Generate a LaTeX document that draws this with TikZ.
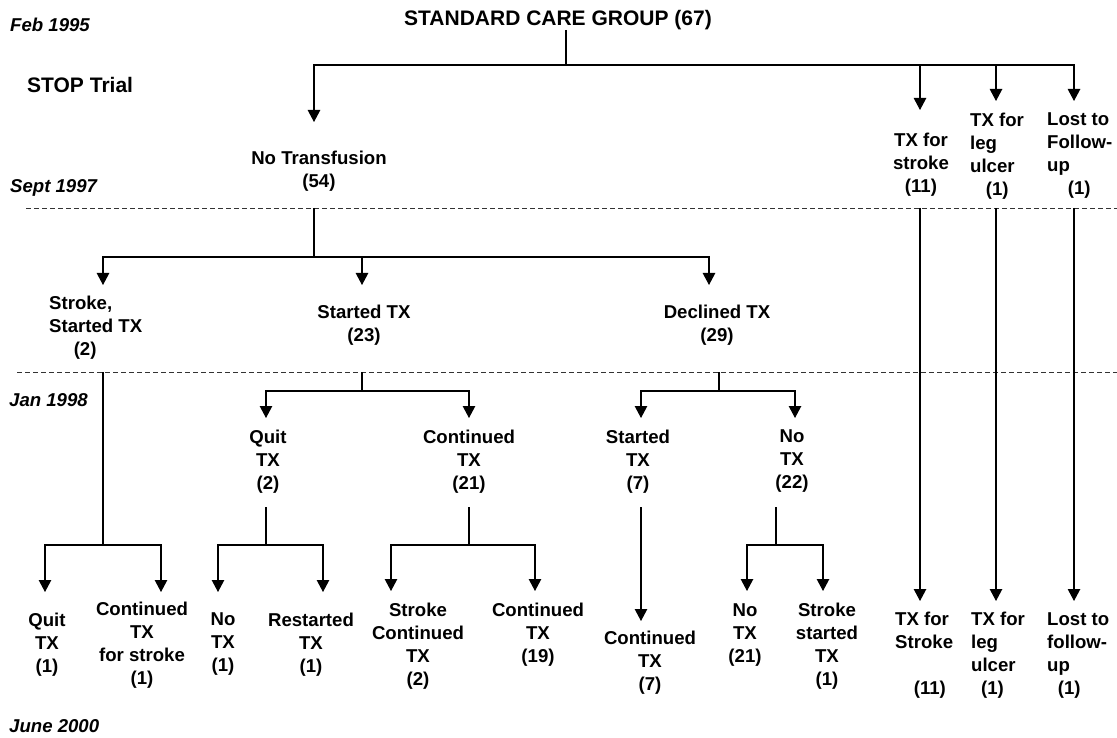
\documentclass[tikz,border=0pt]{standalone}
\usepackage{fontspec}
\setmainfont{Liberation Sans}
\usetikzlibrary{arrows.meta}
\begin{document}
\begin{tikzpicture}[x=1pt,y=-1pt,
  lbl/.style={inner sep=0pt, align=center, font=\fontsize{18.6}{23}\selectfont\bfseries},
  lbll/.style={inner sep=0pt, align=left, anchor=west, font=\fontsize{18.6}{23}\selectfont\bfseries},
  datelbl/.style={inner sep=0pt, anchor=west, font=\fontsize{18.6}{23}\selectfont\bfseries\itshape},
  big/.style={inner sep=0pt, font=\fontsize{21}{25}\selectfont\bfseries},
  ln/.style={line width=1.1pt, black},
  arr/.style={ln, -{Triangle[width=12.5pt,length=12pt]}},
  dsh/.style={line width=0.9pt, black!80, dash pattern=on 5pt off 3pt}]
\useasboundingbox (0,0) rectangle (1117,738);

% ---- labels ----
\node[big] (title) at (558,20) {STANDARD CARE GROUP (67)};
\node[datelbl] (feb) at (10,25) {Feb 1995};
\node[big, anchor=west] (stop) at (27,85) {STOP Trial};
\node[datelbl] (sept) at (10,188) {Sept 1997};
\node[datelbl] (jan) at (9,400) {Jan 1998};
\node[datelbl] (june) at (9,726) {June 2000};

% level 1
\node[lbl] (notx) at (319,171.5) {No Transfusion\\(54)};
\node[lbl] (txs1) at (921,164.5) {TX for\\stroke\\(11)};
\node[lbll] (leg1) at (970,156) {TX for\\leg\\ulcer\\\hspace*{15.6pt}(1)};
\node[lbll] (lost1) at (1047,156) {Lost to\\Follow-\\up\\\hspace*{20.6pt}(1)};

% level 2
\node[lbll] (stroke2) at (49,327.5) {Stroke,\\Started TX\\\hspace*{24.6pt}(2)};
\node[lbl] (start2) at (364,325) {Started TX\\(23)};
\node[lbl] (decl2) at (717,325) {Declined TX\\(29)};

% level 3
\node[lbl] (quit3) at (268,461.5) {Quit\\TX\\(2)};
\node[lbl] (cont3) at (469,461.5) {Continued\\TX\\(21)};
\node[lbl] (start3) at (638,461.5) {Started\\TX\\(7)};
\node[lbl] (no3) at (792,461.5) {No\\TX\\(22)};

% level 4
\node[lbl] (quit4) at (47,644.5) {Quit\\TX\\(1)};
\node[lbl] (contst4) at (142,645.5) {Continued\\TX\\for stroke\\(1)};
\node[lbl] (no4) at (223,644.5) {No\\TX\\(1)};
\node[lbl] (restart4) at (311,644.5) {Restarted\\TX\\(1)};
\node[lbl] (strcont4) at (418,646.5) {Stroke\\Continued\\TX\\(2)};
\node[lbl] (cont19) at (538,634.5) {Continued\\TX\\(19)};
\node[lbl] (cont7) at (650,663) {Continued\\TX\\(7)};
\node[lbl] (no21) at (745,635) {No\\TX\\(21)};
\node[lbl] (strstart4) at (827,646.5) {Stroke\\started\\TX\\(1)};
\node[lbll] (txS4) at (895,655.5) {TX for\\Stroke\\[23pt]\hspace*{18.6pt}(11)};
\node[lbll] (leg4) at (971,655.5) {TX for\\leg\\ulcer\\\hspace*{10pt}(1)};
\node[lbll] (lost4) at (1047,655.5) {Lost to\\follow-\\up\\\hspace*{10.7pt}(1)};

% ---- dashed time lines ----
\coordinate (d1l) at (26,208);  \coordinate (d1r) at (1117,208);
\coordinate (d2l) at (17,372);  \coordinate (d2r) at (1117,372);
\draw[dsh] (d1l) -- (d1r);
\draw[dsh] (d2l) -- (d2r);

% ---- top branch ----
\coordinate (b0) at (566,65);
\coordinate (tA) at (314,122);
\coordinate (tB) at (920,110);
\coordinate (tC) at (996,101);
\coordinate (tD) at (1074,101);
\draw[ln] (title.south -| b0) -- (b0);
\draw[arr] (b0) -| (tA);
\draw[arr] (b0) -| (tB);
\draw[arr] (b0) -| (tC);
\draw[arr] (b0) -| (tD);

% ---- No Transfusion branch ----
\coordinate (n1) at (314,208);
\coordinate (b1) at (314,257);
\coordinate (t2a) at (103,285);
\coordinate (t2b) at (362,285);
\coordinate (t2c) at (709,285);
\draw[ln] (n1) -- (b1);
\draw[arr] (b1) -| (t2a);
\draw[arr] (b1) -| (t2b);
\draw[arr] (b1) -| (t2c);

% ---- Started TX branch ----
\coordinate (s1) at (362,372);
\coordinate (b2) at (362,391);
\coordinate (t3a) at (266,418);
\coordinate (t3b) at (469,418);
\draw[ln] (s1) -- (b2);
\draw[arr] (b2) -| (t3a);
\draw[arr] (b2) -| (t3b);

% ---- Declined TX branch ----
\coordinate (s2) at (719,372);
\coordinate (b3) at (719,391);
\coordinate (t3c) at (641,418);
\coordinate (t3d) at (795,418);
\draw[ln] (s2) -- (b3);
\draw[arr] (b3) -| (t3c);
\draw[arr] (b3) -| (t3d);

% ---- Stroke, started TX branch ----
\coordinate (s3) at (103,372);
\coordinate (b4) at (103,545);
\coordinate (t4a) at (45,592);
\coordinate (t4b) at (161,592);
\draw[ln] (s3) -- (b4);
\draw[arr] (b4) -| (t4a);
\draw[arr] (b4) -| (t4b);

% ---- Quit TX (2) branch ----
\coordinate (s4) at (266,507);
\coordinate (b5) at (266,545);
\coordinate (t4c) at (218,592);
\coordinate (t4d) at (323,592);
\draw[ln] (s4) -- (b5);
\draw[arr] (b5) -| (t4c);
\draw[arr] (b5) -| (t4d);

% ---- Continued TX (21) branch ----
\coordinate (s5) at (469,507);
\coordinate (b6) at (469,545);
\coordinate (t4e) at (391,591);
\coordinate (t4f) at (535,591);
\draw[ln] (s5) -- (b6);
\draw[arr] (b6) -| (t4e);
\draw[arr] (b6) -| (t4f);

% ---- Started TX (7) ----
\coordinate (s6) at (641,507);
\coordinate (t4g) at (641,621);
\draw[arr] (s6) -- (t4g);

% ---- No TX (22) branch ----
\coordinate (s7) at (776,507);
\coordinate (b7) at (776,545);
\coordinate (t4h) at (747,591);
\coordinate (t4i) at (823,591);
\draw[ln] (s7) -- (b7);
\draw[arr] (b7) -| (t4h);
\draw[arr] (b7) -| (t4i);

% ---- right columns ----
\coordinate (r1) at (920,208);  \coordinate (u1) at (920,601);
\coordinate (r2) at (996,208);  \coordinate (u2) at (996,601);
\coordinate (r3) at (1074,208); \coordinate (u3) at (1074,601);
\draw[arr] (r1) -- (u1);
\draw[arr] (r2) -- (u2);
\draw[arr] (r3) -- (u3);
\end{tikzpicture}
\end{document}
